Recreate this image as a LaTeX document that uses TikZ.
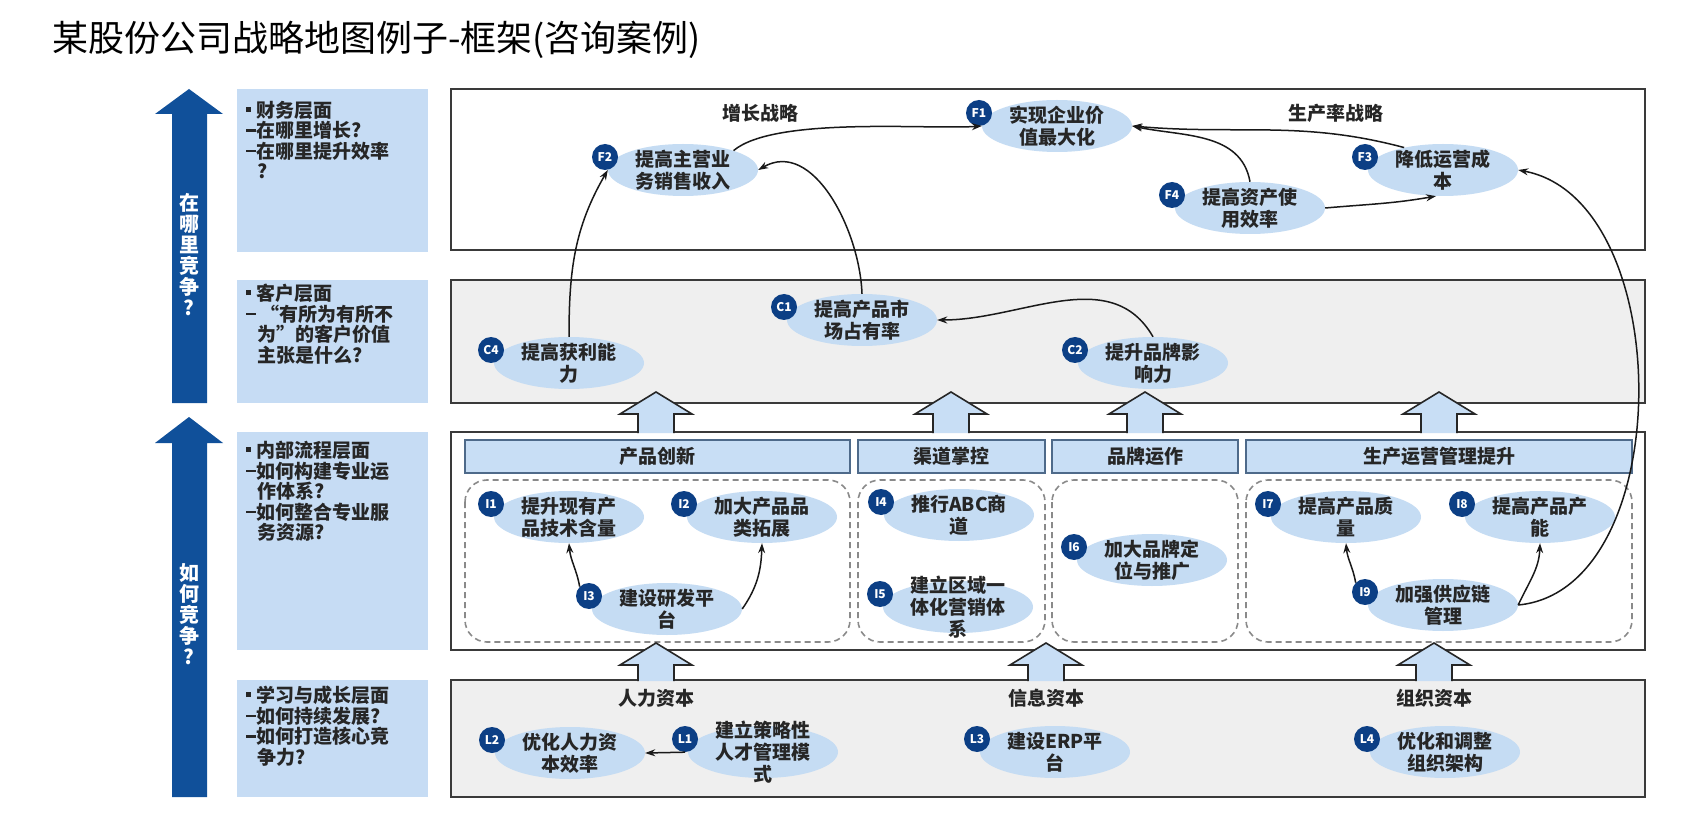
\documentclass[tikz,border=0pt]{standalone}
\usepackage{fontspec}
\setmainfont{Noto Sans CJK SC}
\usetikzlibrary{shapes.geometric,arrows.meta}

\definecolor{ellblue}{HTML}{C5DCF3}
\definecolor{badgeblue}{HTML}{0C3F85}
\definecolor{arrowblue}{HTML}{10509A}
\definecolor{leftblue}{HTML}{C6DCF4}
\definecolor{barfill}{HTML}{C8DEF5}
\definecolor{barline}{HTML}{4E6A8A}
\definecolor{layergray}{HTML}{EFEFEF}
\definecolor{boxline}{HTML}{3A3A3A}
\definecolor{dashgray}{HTML}{8A8A8A}
\definecolor{txtdark}{HTML}{262626}

\newcommand{\lbul}{\rule[0.3em]{5pt}{5pt}\hspace{5pt}}
\newcommand{\ldash}{\rule[0.32em]{10pt}{2.5pt}}

\begin{document}
\begin{tikzpicture}[x=1pt, y=-1pt,
    >={Stealth[length=10pt,width=7pt]},
    goal/.style={ellipse, fill=ellblue, minimum width=150pt, minimum height=52pt, inner sep=0pt},
    goaltext/.style={align=center, text=txtdark, inner sep=0pt, font=\fontsize{19}{22}\selectfont\bfseries},
    badge/.style={circle, fill=badgeblue, text=white, minimum size=26pt, inner sep=0pt, font=\fontsize{12}{12}\selectfont\bfseries},
    layer/.style={draw=boxline, line width=2pt},
    lefttext/.style={align=left, text=txtdark, inner sep=0pt, anchor=north west, font=\fontsize{19}{20.5}\selectfont\bfseries},
    vtext/.style={align=center, text=white, inner sep=0pt, font=\fontsize{20}{21}\selectfont\bfseries},
    bar/.style={draw=barline, fill=barfill, line width=2pt, minimum height=33pt, inner sep=0pt, text=txtdark, font=\fontsize{19}{19}\selectfont\bfseries},
    dashbox/.style={draw=dashgray, line width=1.6pt, dash pattern=on 6pt off 4pt, rounded corners=22pt},
    lbl/.style={inner sep=0pt, text=txtdark, font=\fontsize{19}{19}\selectfont\bfseries},
    blockup/.style={fill=barfill, draw=black!85, line width=1.6pt},
    link/.style={->, draw=black!90, line width=1.5pt}]

\path[use as bounding box, fill=white] (0,0) rectangle (1706,834);

\node[anchor=west, inner sep=0pt, font=\fontsize{36}{40}\selectfont] (title) at (52,40) {某股份公司战略地图例子-框架(咨询案例)};

% left side
\fill[arrowblue] (172,403) -- (172,114) -- (155,114) -- (189,89) -- (223,114) -- (207,114) -- (207,403) -- cycle;
\fill[arrowblue] (172,797) -- (172,443) -- (155,443) -- (189,417) -- (223,443) -- (207,443) -- (207,797) -- cycle;
\node[vtext] (where) at (189,255) {在\\哪\\里\\竞\\争\\?};
\node[vtext] (how) at (189,614) {如\\何\\竞\\争\\?};

\fill[leftblue] (237,89) rectangle (428,252);
\fill[leftblue] (237,280) rectangle (428,403);
\fill[leftblue] (237,432) rectangle (428,650);
\fill[leftblue] (237,680) rectangle (428,797);
\node[lefttext] (q1) at (246,101) {\lbul 财务层面\\ \ldash 在哪里增长?\\ \ldash 在哪里提升效率\\ \hspace*{11pt}?};
\node[lefttext] (q2) at (246,284) {\lbul 客户层面\\ \ldash\ “有所为有所不\\ \hspace*{11pt}为”的客户价值\\ \hspace*{11pt}主张是什么?};
\node[lefttext] (q3) at (246,441) {\lbul 内部流程层面\\ \ldash 如何构建专业运\\ \hspace*{11pt}作体系?\\ \ldash 如何整合专业服\\ \hspace*{11pt}务资源?};
\node[lefttext] (q4) at (246,686) {\lbul 学习与成长层面\\ \ldash 如何持续发展?\\ \ldash 如何打造核心竞\\ \hspace*{11pt}争力?};

% layers
\draw[layer, fill=white] (451,89) rectangle (1645,250);
\draw[layer, fill=layergray] (451,280) rectangle (1645,403);
\draw[layer, fill=white] (451,432) rectangle (1645,650);
\draw[layer, fill=layergray] (451,680) rectangle (1645,797);

\node[lbl] (grow) at (760,113) {增长战略};
\node[lbl] (prod) at (1336,113) {生产率战略};
\node[lbl] (hr) at (656,698) {人力资本};
\node[lbl] (info) at (1046,698) {信息资本};
\node[lbl] (org) at (1434,698) {组织资本};

\foreach \n/\a/\b/\txt in {h1/465/850/产品创新, h2/858/1045/渠道掌控, h3/1052/1238/品牌运作, h4/1246/1632/生产运营管理提升}
{
    \node[bar, minimum width={(\b-\a)*1pt}] (\n) at ({(\a+\b)/2},456.5) {\txt};
    \draw[dashbox] (\a,480) rectangle (\b,642);
}

\foreach \x in {656,951,1145,1439}
    \draw[blockup] (\x-18,433) -- (\x-18,414) -- (\x-36,414) -- (\x,392) -- (\x+36,414) -- (\x+18,414) -- (\x+18,433);
\foreach \x in {656,1046,1434}
    \draw[blockup] (\x-18,681) -- (\x-18,665) -- (\x-36,665) -- (\x,643) -- (\x+36,665) -- (\x+18,665) -- (\x+18,681);

% objectives
\foreach \n/\x/\y/\txt in {
    F1/1057/126/{实现企业价\\值最大化},
    F2/683/170/{提高主营业\\务销售收入},
    F3/1443/170/{降低运营成\\本},
    F4/1250/208/{提高资产使\\用效率},
    C1/862/320/{提高产品市\\场占有率},
    C2/1153/363/{提升品牌影\\响力},
    C4/569/363/{提高获利能\\力},
    I1/569/517/{提升现有产\\品技术含量},
    I2/762/517/{加大产品品\\类拓展},
    I3/667/609/{建设研发平\\台},
    I4/959/515/{推行ABC商\\道},
    I5/958/607/{建立区域一\\体化营销体\\系},
    I6/1152/560/{加大品牌定\\位与推广},
    I7/1346/517/{提高产品质\\量},
    I8/1540/517/{提高产品产\\能},
    I9/1443/605/{加强供应链\\管理},
    L1/763/752/{建立策略性\\人才管理模\\式},
    L2/570/753/{优化人力资\\本效率},
    L3/1055/752/{建设ERP平\\台},
    L4/1445/752/{优化和调整\\组织架构}}
{
    \node[goal] (\n) at (\x,\y) {};
    \node[goaltext] (t\n) at (\n) {\txt};
    \node[badge] (b\n) at ([shift={(-78,-13)}]\n.center) {\n};
}

% links
\draw[link] (F2.21) to[out=40,in=184,looseness=0.55] (F1.west);
\draw[link] (F3.150) to[out=165,in=-5] (F1.east);
\draw[link] (F4.north) to[out=100,in=-12] (F1.east);
\draw[link] (F4.east) to[out=5,in=190] (F3.255);
\draw[link] (C4.north) to[out=90,in=240] (F2.west);
\draw[link] (C1.north) to[out=92,in=30] (F2.east);
\draw[link] (C2.north) to[out=120,in=0] (C1.east);
\draw[link] (bI3.135) to[out=100,in=-85] (I1.south);
\draw[link] (I3.east) to[out=55,in=-92] (I2.south);
\draw[link] (bI9.135) to[out=100,in=-85] (I7.south);
\draw[link] (I9.east) to[out=65,in=-92] (I8.south);
\draw[link] (I9.east) .. controls (1678,590) and (1678,200) .. (F3.east);
\draw[link] (bL1.south) -- (L2.east);

\end{tikzpicture}
\end{document}
